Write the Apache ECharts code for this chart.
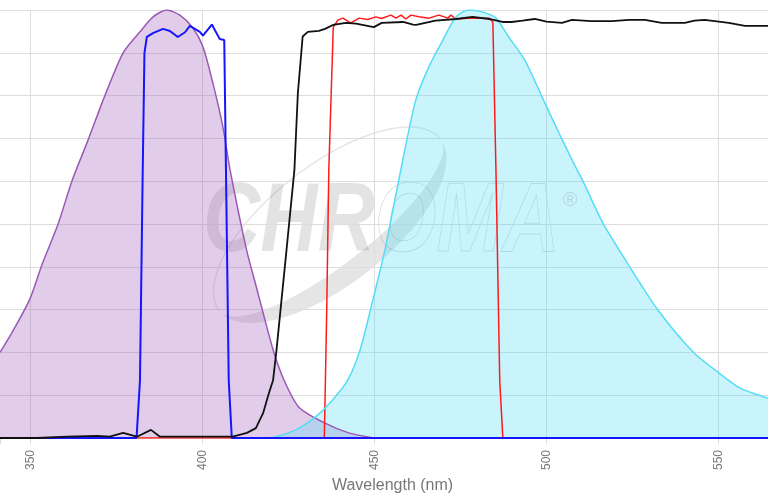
<!DOCTYPE html>
<html>
<head>
<meta charset="utf-8">
<script src="https://cdn.jsdelivr.net/npm/echarts@6/dist/echarts.min.js"></script>
<style>
  html, body { margin: 0; padding: 0; background: #fff; }
  #chart { width: 768px; height: 500px; }
</style>
</head>
<body>
<div id="chart"></div>
<script>
// excitation spectrum (purple, filled)
var exNm  = [341.1, 345, 349.8, 353.3, 358, 362, 366.7, 371.6, 376.9, 381.8, 385.6, 389.6, 393.4, 397.2, 400.1, 403, 405.9, 408, 412.8, 415.5, 420.5, 423.7, 428, 435, 442.5, 449.8];
var exVal = [20, 25.2, 32.5, 40.5, 50, 60, 69.6, 80, 90, 94.9, 98.4, 100, 98.8, 95.8, 91.4, 82.9, 72.7, 62.6, 43.9, 35.7, 20.6, 13.5, 7.2, 3.7, 1.2, 0];

// excitation filter (blue)
var exfNm  = [341.1, 380.8, 381.8, 382.6, 383.1, 383.8, 385.6, 388.5, 390.5, 392.8, 394.9, 396.3, 399.2, 400.1, 402.7, 405, 406.3, 406.8, 407.6, 408.5, 564.4];
var exfVal = [0, 0, 13.5, 62.6, 90, 93.7, 94.6, 95.6, 95.1, 93.7, 94.8, 96.3, 94.9, 94, 96.6, 93.2, 93, 62.6, 13.5, 0, 0];

// dichroic (black)
var dicNm  = [341.1, 351.8, 360.6, 369.3, 373, 376.9, 380.9, 385, 387.6, 400, 408.8, 412.9, 415.5, 417.6, 419.3, 420.5, 421.5, 424.4, 426.7, 427.7, 429.1, 430.6, 433.8, 435.6, 437.9, 441.7, 444.6, 449.8, 452.1, 458.3, 461.2, 462.1, 467.7, 473.7, 478.5, 483.3, 487.2, 489.9, 493, 496.6, 500, 504.5, 507.4, 513, 519, 524, 528.6, 533.5, 540.2, 543, 546, 553, 557.7, 564.4];
var dicVal = [0, 0, 0.3, 0.5, 0.3, 1.2, 0.3, 1.9, 0.3, 0.3, 0.3, 1.2, 2.3, 5.8, 10.5, 13.5, 20.6, 43.9, 62.6, 80.5, 93.8, 94.9, 95.1, 95.6, 96.5, 97, 96.8, 96, 97, 97.2, 96.6, 96.5, 97.5, 97.9, 98.4, 97.9, 97.2, 97.2, 97.5, 97.9, 97.3, 97, 97.7, 97.4, 97.4, 97.7, 97.7, 97, 97, 97.5, 97.7, 97, 96.3, 96.3];

// emission filter (red)
var emfNm  = [341.1, 435.4, 436.1, 436.7, 438, 439.4, 440.8, 443.1, 445.5, 448, 450.4, 452, 454.8, 456.2, 457.7, 459.1, 460.6, 462.9, 465.8, 468.7, 471.3, 472.2, 473.7, 477.4, 480, 483.3, 484.4, 485.3, 486.4, 487.3, 564.4];
var emfVal = [0, 0, 30, 62.6, 96, 97.7, 98.1, 97, 98.1, 97.8, 98.4, 98, 98.8, 98.1, 98.8, 97.9, 98.8, 98.4, 98.1, 98.8, 98.1, 98.8, 97.9, 98.1, 98.1, 98.1, 97.2, 62.6, 13.5, 0, 0];

// emission spectrum (cyan, filled)
var emNm  = [418.4, 421.3, 427.1, 432.9, 437.8, 442.2, 445.8, 449.5, 453, 455.9, 458.8, 462, 465.8, 469.9, 473.7, 477.4, 481.5, 485.3, 489, 493.7, 498.7, 503.6, 507.7, 510.6, 516.4, 524.2, 532.4, 542.6, 549.8, 556.2, 564.4];
var emVal = [0, 0.3, 1.9, 5, 8.9, 13.5, 20.6, 32.2, 43.9, 55.6, 67.3, 79, 86.7, 93, 98.4, 100, 99.5, 98.1, 93.7, 88.3, 79.7, 71.3, 64.5, 60, 50.2, 40, 29.9, 20.1, 15.4, 11.7, 9.3];

var xTicks = [350, 400, 450, 500, 550];

function pairs(xs, ys) {
  return xs.map(function (x, i) { return [x, ys[i]]; });
}

// half ellipse outline for the watermark swoosh (local coords, not data)
function halfEllipse(rx, ry, lower, reverse) {
  var pts = [];
  for (var i = 0; i <= 40; i++) {
    var t = Math.PI * i / 40;
    pts.push([-rx * Math.cos(t), (lower ? 1 : -1) * ry * Math.sin(t)]);
  }
  return reverse ? pts.reverse() : pts;
}

var chart = echarts.init(document.getElementById('chart'));
var wmFont = 'italic bold 98px "Liberation Sans", Arial, sans-serif';

var option = {
  animation: false,
  grid: { left: 0, right: 0, top: 10, bottom: 62, containLabel: false },
  xAxis: {
    type: 'value',
    min: 341.1,
    max: 564.4,
    name: 'Wavelength (nm)',
    nameLocation: 'middle',
    nameGap: 38,
    nameTextStyle: { fontSize: 16, color: '#777', padding: [0, 0, 0, 17] },
    axisLine: { show: false },
    axisTick: { show: true, length: 6, lineStyle: { color: '#dddddd' } },
    axisLabel: {
      rotate: 90, margin: 12, fontSize: 12, color: '#777',
      formatter: function (v) { return xTicks.indexOf(v) >= 0 ? String(v) : ''; }
    },
    splitLine: { show: true, showMinLine: false, showMaxLine: false, lineStyle: { color: '#dddddd' } }
  },
  yAxis: {
    type: 'value',
    min: 0,
    max: 100,
    interval: 10,
    axisLine: { show: false },
    axisTick: { show: false },
    axisLabel: { show: false },
    splitLine: { show: true, lineStyle: { color: '#dddddd' } }
  },
  series: [
    {
      name: 'Excitation', type: 'line', symbol: 'none', smooth: 0.25, data: pairs(exNm, exVal),
      lineStyle: { color: '#9b59b6', width: 1.5 },
      areaStyle: { color: 'rgba(155,89,182,0.3)', opacity: 1 }
    },
    {
      name: 'Emission filter', type: 'line', symbol: 'none', data: pairs(emfNm, emfVal),
      lineStyle: { color: '#ff1a1a', width: 1.5 }
    },
    {
      name: 'Emission', type: 'line', symbol: 'none', smooth: 0.25, data: pairs(emNm, emVal),
      lineStyle: { color: '#55dcf5', width: 1.5 },
      areaStyle: { color: 'rgba(80,220,245,0.3)', opacity: 1 }
    },
    {
      name: 'Excitation filter', type: 'line', symbol: 'none', data: pairs(exfNm, exfVal),
      lineStyle: { color: '#1515ff', width: 2 }
    },
    {
      name: 'Dichroic', type: 'line', symbol: 'none', data: pairs(dicNm, dicVal),
      lineStyle: { color: '#111111', width: 1.8 }
    }
  ],
  graphic: [
    {
      type: 'group', x: 330, y: 225, rotation: 0.66, silent: true, z: 100,
      children: [
        { type: 'polygon',
          shape: { points: halfEllipse(140, 60, true, false).concat(halfEllipse(140, 40, true, true)) },
          style: { fill: 'rgba(0,0,0,0.1)' } },
        { type: 'polyline', shape: { points: halfEllipse(140, 60, false, false) },
          style: { fill: null, stroke: 'rgba(0,0,0,0.1)', lineWidth: 1.5 } }
      ]
    },
    {
      type: 'group', x: 203, y: 224, scaleX: 0.81, silent: true, z: 100,
      children: [
        { type: 'text', style: { text: 'CHR', x: 0, y: 0, font: wmFont, fill: 'rgba(0,0,0,0.11)', verticalAlign: 'middle' } },
        { type: 'text', style: { text: 'OMA', x: 212, y: 0, font: wmFont, fill: 'rgba(0,0,0,0)', stroke: 'rgba(0,0,0,0.14)', lineWidth: 1, verticalAlign: 'middle' } }
      ]
    },
    {
      type: 'text', x: 570, y: 200, silent: true, z: 100,
      style: { text: '\u00ae', font: '20px "Liberation Sans", Arial', fill: 'rgba(0,0,0,0.12)', verticalAlign: 'middle', align: 'center' }
    }
  ]
};

chart.setOption(option);
</script>
</body>
</html>
